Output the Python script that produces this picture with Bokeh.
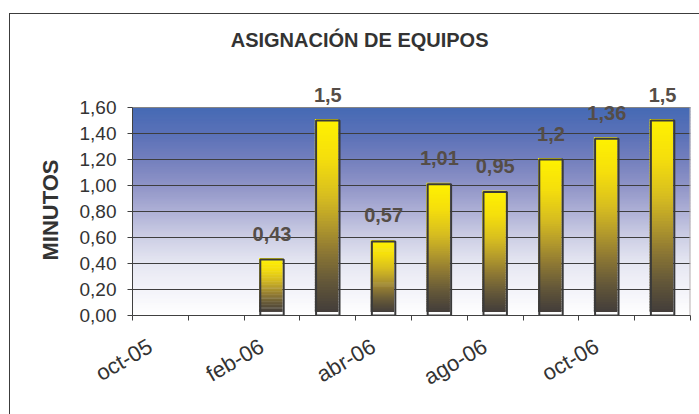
import math

from bokeh.core.properties import value
from bokeh.embed import file_html
from bokeh.models import ColumnDataSource, FixedTicker, Label, LabelSet, Title
from bokeh.plotting import figure
from bokeh.resources import INLINE

# ---- data -------------------------------------------------------------
title_text = "ASIGNACIÓN DE EQUIPOS"
y_label = "MINUTOS"
n_periods = 10
# minutes per period (first two periods have no value)
minutes = [None, None, 0.43, 1.5, 0.57, 1.01, 0.95, 1.2, 1.36, 1.5]
# labels shown on the x axis, one every second period
x_tick_labels = ["oct-05", "feb-06", "abr-06", "ago-06", "oct-06"]
y_ticks = [0.0, 0.2, 0.4, 0.6, 0.8, 1.0, 1.2, 1.4, 1.6]

# ---- styling ----------------------------------------------------------
FONT = "Liberation Sans"
BAR_WIDTH = 0.42
Y_MAX = 1.6                 # top of the shaded plot area
PX_PER_UNIT = 130           # vertical scale (pixels per minute)
FRAME_W, FRAME_H = 558, 291  # frame also holds the title and top labels
Y_TOP = FRAME_H / PX_PER_UNIT
X0, X1 = -0.5, n_periods - 0.5

# plot-area gradient, bottom (0) to top (1)
bg_stops = [(0.0, "#ffffff"), (0.125, "#f3f3f9"), (0.25, "#e6e7f2"),
            (0.375, "#cdcfe5"), (0.5, "#aeb0d6"), (0.625, "#8f94c7"),
            (0.75, "#737fbd"), (0.875, "#5a71b8"), (1.0, "#456ab4")]
# bar gradient, top (0) to bottom (1)
bar_stops = [(0.0, "#fff200"), (0.2, "#f5df0c"), (0.4, "#d7bd20"),
             (0.55, "#b39a2c"), (0.7, "#8a7534"), (0.85, "#625639"),
             (1.0, "#433d3a")]


def hex_rgb(h):
    h = h.lstrip("#")
    return tuple(int(h[i:i + 2], 16) for i in (0, 2, 4))


def blend(stops, t):
    for (t0, c0), (t1, c1) in zip(stops, stops[1:]):
        if t <= t1:
            k = 0 if t1 == t0 else (t - t0) / (t1 - t0)
            a, b = hex_rgb(c0), hex_rgb(c1)
            return "#%02x%02x%02x" % tuple(round(a[i] + (b[i] - a[i]) * k) for i in range(3))
    return stops[-1][1]


def fmt(v, decimals=None):
    s = f"{v:.{decimals}f}" if decimals is not None else f"{v:g}"
    return s.replace(".", ",")


p = figure(frame_width=FRAME_W, frame_height=FRAME_H,
           x_range=(X0, X1), y_range=(0, Y_TOP),
           output_backend="svg", toolbar_location=None,
           min_border_left=122, min_border_right=10,
           min_border_top=10, min_border_bottom=100,
           background_fill_color="white", border_fill_color="white",
           outline_line_color=None)
p.margin = (13, 0, 0, 9)
p.styles = {"border-top": "1px solid #3c3c3c", "border-left": "1px solid #3c3c3c"}
p.xgrid.visible = False
p.ygrid.visible = False

# plot-area gradient as thin horizontal bands
n_bg = 140
bg_bottom = [Y_MAX * i / n_bg for i in range(n_bg)]
bg_top = [min(Y_MAX, Y_MAX * (i + 1.6) / n_bg) for i in range(n_bg)]
bg_color = [blend(bg_stops, (i + 0.5) / n_bg) for i in range(n_bg)]
p.quad(left=X0, right=X1, bottom=bg_bottom, top=bg_top,
       fill_color=bg_color, line_color=None)

# horizontal gridlines
p.segment(x0=X0, x1=X1, y0=y_ticks[1:], y1=y_ticks[1:],
          line_color="#3e3e3e", line_width=1)

# plot-area border (top edge and right edge)
p.segment(x0=[X0], x1=[X1], y0=[Y_MAX], y1=[Y_MAX],
          line_color="#858585", line_width=1)
p.segment(x0=[X1], x1=[X1], y0=[0], y1=[Y_MAX],
          line_color="#b8b2b2", line_width=2)

# bars: gradient body (slightly shifted up/left) and a dark outline
dx = -1.2 / (FRAME_W / n_periods)
px_y = 1 / PX_PER_UNIT
n_sl = 70
sl_l, sl_r, sl_b, sl_t, sl_c = [], [], [], [], []
ol_l, ol_r, ol_t, lab_x, lab_y, lab_t = [], [], [], [], [], []
for i, v in enumerate(minutes):
    if v is None:
        continue
    bottom = 3.5 * px_y
    top = v + 1.5 * px_y
    h = top - bottom
    for k in range(n_sl):
        sl_l.append(i - BAR_WIDTH / 2 + dx)
        sl_r.append(i + BAR_WIDTH / 2 + dx)
        sl_t.append(top - h * k / n_sl)
        sl_b.append(max(bottom, top - h * (k + 1.6) / n_sl))
        sl_c.append(blend(bar_stops, (k + 0.5) / n_sl))
    ol_l.append(i - BAR_WIDTH / 2)
    ol_r.append(i + BAR_WIDTH / 2)
    ol_t.append(v)
    lab_x.append(i)
    lab_y.append(v)
    lab_t.append(fmt(v))

p.quad(left=sl_l, right=sl_r, bottom=sl_b, top=sl_t,
       fill_color=sl_c, line_color=None)
p.quad(left=ol_l, right=ol_r, bottom=0, top=ol_t,
       fill_color=None, line_color="#3a3a3a", line_width=2)

labels = LabelSet(source=ColumnDataSource(dict(x=lab_x, y=lab_y, t=lab_t)),
                  x="x", y="y", text="t", y_offset=26,
                  text_align="center", text_baseline="middle",
                  text_font=value(FONT), text_font_size="20px",
                  text_font_style="bold", text_color="#554d47")
p.add_layout(labels)

# title, centred over the whole chart
p.add_layout(Label(x=3.57, y=(315.3 - 39.3) * px_y,
                   text=title_text, text_align="center",
                   text_baseline="middle", text_font=FONT,
                   text_font_size="20px", text_font_style="bold",
                   text_color="#333333"))

# y axis (line limited to the shaded area)
ya = p.yaxis[0]
ya.bounds = (0, Y_MAX)
ya.ticker = FixedTicker(ticks=y_ticks)
ya.major_label_overrides = {t: fmt(t, 2) for t in y_ticks}
ya.axis_line_color = "#404040"
ya.major_tick_line_color = "#404040"
ya.major_tick_out = 5
ya.major_tick_in = 0
ya.minor_tick_line_color = None
ya.major_label_standoff = 11
ya.major_label_text_font = FONT
ya.major_label_text_font_size = "19px"
ya.major_label_text_color = "#333333"

# y-axis title, placed beside the shaded area rather than the whole frame
p.add_layout(Title(text=y_label, align="left", offset=55, standoff=27,
                   text_font=FONT, text_font_size="22px",
                   text_font_style="bold", text_color="#333333"), "left")

# x axis: labels every second period, tick marks between periods
xa = p.xaxis[0]
label_pos = [i - 0.18 for i in range(0, n_periods, 2)]
xa.ticker = FixedTicker(ticks=label_pos,
                        minor_ticks=[i - 0.5 for i in range(n_periods + 1)])
xa.major_label_overrides = dict(zip(label_pos, x_tick_labels))
xa.axis_line_color = "#404040"
xa.major_tick_out = 0
xa.major_tick_in = 0
xa.minor_tick_line_color = "#404040"
xa.minor_tick_out = 5
xa.minor_tick_in = 0
xa.major_label_orientation = math.pi / 6
xa.major_label_standoff = 24
xa.major_label_text_font = FONT
xa.major_label_text_font_size = "22px"
xa.major_label_text_color = "#333333"

open("out.html", "w").write(file_html(p, INLINE))
